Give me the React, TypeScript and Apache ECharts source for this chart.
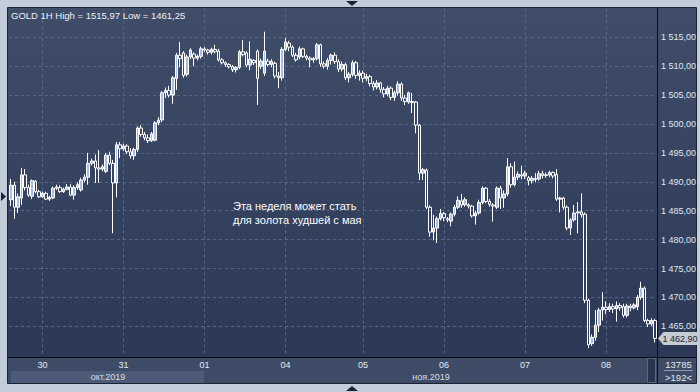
import React, { useEffect, useRef } from "react";
import * as echarts from "echarts";

// Hourly OHLC of GOLD (1H)
const open = [
  1486.9, 1489.4, 1485.6, 1487.2, 1491.2, 1489.0, 1487.5, 1490.1, 1488.3, 1487.4,
  1488.0, 1487.0, 1487.2, 1488.9, 1489.0, 1488.3, 1488.7, 1489.1, 1487.7, 1489.0,
  1488.6, 1490.3, 1490.8, 1493.2, 1493.6, 1492.4, 1492.2, 1491.8, 1494.6, 1493.2,
  1489.8, 1496.4, 1495.7, 1496.2, 1495.2, 1494.5, 1495.6, 1499.3, 1498.2, 1497.6,
  1497.1, 1497.2, 1500.2, 1500.7, 1505.4, 1505.8, 1505.0, 1507.9, 1511.9, 1512.3,
  1508.6, 1511.6, 1512.1, 1511.4, 1511.7, 1513.0, 1512.8, 1512.4, 1512.9, 1512.6,
  1511.1, 1510.6, 1510.3, 1509.9, 1509.4, 1509.8, 1512.5, 1512.3, 1510.2, 1511.0,
  1512.6, 1510.0, 1508.8, 1510.9, 1510.3, 1510.5, 1508.3, 1508.0, 1512.9, 1514.0,
  1513.3, 1511.9, 1511.6, 1513.0, 1511.7, 1511.4, 1511.1, 1511.3, 1513.7, 1510.4,
  1510.0, 1511.0, 1511.9, 1510.8, 1509.5, 1510.3, 1508.0, 1508.6, 1510.6, 1508.4,
  1508.8, 1507.9, 1508.2, 1507.0, 1506.4, 1507.1, 1506.0, 1505.2, 1506.2, 1504.6,
  1505.4, 1506.9, 1504.5, 1503.8, 1503.9, 1503.8, 1499.8, 1491.5, 1492.0, 1485.6,
  1481.3, 1482.0, 1483.6, 1484.5, 1483.6, 1483.2, 1484.4, 1485.6, 1486.7, 1486.0,
  1486.0, 1485.8, 1484.1, 1484.6, 1486.4, 1488.9, 1486.6, 1486.0, 1485.6, 1488.9,
  1487.2, 1487.9, 1492.6, 1489.5, 1490.8, 1491.2, 1491.0, 1490.7, 1490.2, 1490.6,
  1490.5, 1491.4, 1491.1, 1491.2, 1491.6, 1491.3, 1487.0, 1487.2, 1485.6, 1482.0,
  1483.4, 1484.6, 1484.8, 1484.4, 1469.5, 1462.0, 1463.1, 1465.2, 1467.8, 1468.3,
  1467.9, 1468.4, 1468.0, 1468.6, 1468.4, 1466.9, 1468.5, 1468.2, 1468.4, 1470.0,
  1471.6, 1466.0, 1465.4, 1466.0,
];
const close = [
  1489.4, 1485.6, 1487.4, 1491.2, 1489.0, 1487.7, 1490.2, 1488.3, 1487.4, 1488.0,
  1487.0, 1487.3, 1488.9, 1489.1, 1488.3, 1488.7, 1489.1, 1487.7, 1489.0, 1489.5,
  1490.3, 1490.8, 1493.2, 1493.6, 1492.4, 1492.2, 1492.6, 1494.6, 1493.2, 1489.8,
  1496.4, 1495.7, 1496.2, 1495.2, 1494.5, 1495.6, 1499.3, 1498.2, 1497.6, 1497.1,
  1498.3, 1500.2, 1500.7, 1505.4, 1505.8, 1505.0, 1508.0, 1511.9, 1511.3, 1508.4,
  1511.6, 1512.8, 1511.4, 1511.7, 1513.0, 1512.8, 1512.4, 1512.9, 1512.5, 1511.1,
  1510.6, 1510.3, 1509.9, 1509.4, 1509.8, 1512.5, 1512.0, 1510.2, 1511.2, 1510.6,
  1507.9, 1510.9, 1512.6, 1510.3, 1510.8, 1508.3, 1508.0, 1512.9, 1514.2, 1513.3,
  1511.9, 1511.1, 1513.0, 1511.7, 1511.4, 1511.1, 1511.3, 1513.7, 1510.4, 1510.0,
  1511.0, 1511.9, 1510.8, 1509.5, 1510.3, 1508.0, 1508.6, 1510.6, 1508.4, 1508.8,
  1507.9, 1508.2, 1507.0, 1506.4, 1507.1, 1506.0, 1505.2, 1506.2, 1504.6, 1505.4,
  1506.9, 1504.5, 1503.9, 1505.4, 1503.7, 1499.8, 1491.5, 1492.1, 1485.6, 1481.3,
  1482.0, 1483.6, 1484.5, 1483.8, 1483.4, 1484.4, 1485.6, 1486.8, 1486.0, 1486.9,
  1485.8, 1484.1, 1484.6, 1486.4, 1488.9, 1486.6, 1486.1, 1485.8, 1488.9, 1487.2,
  1487.9, 1492.6, 1489.5, 1490.8, 1491.3, 1491.0, 1491.5, 1490.2, 1490.6, 1490.4,
  1491.4, 1491.1, 1491.2, 1491.6, 1491.0, 1487.0, 1487.2, 1485.6, 1482.0, 1483.4,
  1484.6, 1484.8, 1484.3, 1469.5, 1461.8, 1463.1, 1465.2, 1467.8, 1468.3, 1467.9,
  1468.4, 1468.0, 1468.6, 1468.2, 1466.9, 1468.5, 1468.2, 1468.7, 1470.0, 1471.6,
  1466.0, 1465.4, 1466.0, 1462.9,
];
const low = [
  1485.8, 1483.6, 1484.6, 1486.0, 1488.5, 1487.4, 1487.0, 1488.0, 1487.2, 1487.2,
  1486.9, 1486.7, 1487.0, 1488.6, 1488.1, 1488.1, 1488.5, 1487.5, 1486.9, 1488.6,
  1488.3, 1489.9, 1489.5, 1492.8, 1489.8, 1489.8, 1491.8, 1491.5, 1492.9, 1481.1,
  1487.3, 1494.1, 1495.3, 1494.8, 1494.0, 1493.8, 1495.2, 1497.8, 1497.2, 1496.7,
  1496.9, 1497.0, 1499.8, 1500.3, 1504.5, 1504.6, 1503.5, 1505.9, 1509.8, 1508.0,
  1508.2, 1511.2, 1510.0, 1511.0, 1511.3, 1512.5, 1512.0, 1512.0, 1512.2, 1510.8,
  1510.3, 1509.9, 1509.6, 1509.0, 1508.9, 1509.5, 1511.7, 1509.8, 1509.3, 1510.2,
  1503.3, 1509.5, 1508.3, 1510.0, 1509.8, 1507.9, 1506.2, 1507.5, 1512.6, 1512.6,
  1511.6, 1510.8, 1511.2, 1511.4, 1511.0, 1509.8, 1510.6, 1511.0, 1509.9, 1509.6,
  1509.4, 1510.3, 1510.4, 1509.0, 1509.1, 1507.6, 1507.2, 1508.2, 1507.8, 1507.5,
  1507.2, 1507.4, 1506.5, 1505.8, 1506.0, 1505.4, 1504.6, 1504.8, 1504.1, 1504.0,
  1504.9, 1504.0, 1503.3, 1503.5, 1501.9, 1498.4, 1490.3, 1490.3, 1485.3, 1480.5,
  1479.9, 1479.4, 1483.3, 1483.2, 1483.0, 1482.3, 1484.0, 1485.3, 1485.5, 1485.7,
  1485.4, 1483.8, 1482.6, 1484.3, 1486.1, 1486.3, 1485.7, 1483.1, 1485.3, 1485.3,
  1485.5, 1487.5, 1489.0, 1489.2, 1490.3, 1490.4, 1490.5, 1489.4, 1489.7, 1489.9,
  1490.2, 1490.6, 1490.7, 1490.8, 1490.6, 1486.7, 1484.7, 1485.2, 1481.6, 1480.8,
  1483.1, 1481.1, 1483.8, 1469.0, 1461.25, 1461.6, 1462.5, 1464.0, 1466.0, 1467.1,
  1467.5, 1467.3, 1465.8, 1467.7, 1466.5, 1466.5, 1467.6, 1467.9, 1467.8, 1469.6,
  1465.7, 1464.9, 1465.0, 1462.2,
];
const high = [
  1490.5, 1490.0, 1488.0, 1492.4, 1492.2, 1489.5, 1490.4, 1490.3, 1488.6, 1488.3,
  1488.3, 1487.6, 1489.2, 1489.5, 1489.4, 1489.0, 1489.6, 1489.6, 1489.4, 1489.9,
  1490.7, 1491.3, 1495.0, 1494.0, 1494.7, 1495.5, 1493.0, 1495.0, 1495.2, 1493.8,
  1496.9, 1496.9, 1496.6, 1496.5, 1495.8, 1495.9, 1499.6, 1499.8, 1498.6, 1498.2,
  1498.6, 1500.5, 1501.2, 1505.7, 1506.3, 1506.6, 1508.3, 1512.3, 1514.2, 1512.6,
  1512.0, 1513.1, 1512.4, 1512.0, 1513.4, 1513.3, 1513.0, 1513.2, 1513.7, 1513.0,
  1511.4, 1510.8, 1510.5, 1510.2, 1510.0, 1512.8, 1514.5, 1512.6, 1514.3, 1511.2,
  1512.9, 1511.3, 1515.97, 1511.3, 1511.2, 1510.8, 1509.0, 1513.3, 1514.9, 1514.4,
  1513.6, 1512.3, 1513.4, 1513.2, 1512.0, 1511.7, 1511.6, 1514.0, 1513.9, 1510.8,
  1511.4, 1512.2, 1512.4, 1511.2, 1510.8, 1510.6, 1509.0, 1511.0, 1510.9, 1509.3,
  1509.2, 1508.7, 1508.5, 1507.4, 1507.6, 1507.3, 1506.4, 1506.6, 1506.5, 1505.8,
  1507.4, 1507.2, 1505.0, 1505.6, 1505.4, 1504.0, 1500.0, 1492.4, 1492.3, 1485.9,
  1484.3, 1484.0, 1485.3, 1484.8, 1483.9, 1484.7, 1486.0, 1487.5, 1487.9, 1487.3,
  1486.3, 1486.0, 1485.0, 1486.9, 1489.2, 1489.1, 1487.0, 1486.3, 1489.2, 1489.3,
  1488.5, 1494.1, 1493.2, 1493.5, 1491.8, 1492.8, 1491.9, 1491.0, 1491.0, 1491.5,
  1491.9, 1491.9, 1491.6, 1491.9, 1491.8, 1492.2, 1487.4, 1487.4, 1485.9, 1483.7,
  1486.0, 1486.5, 1488.0, 1484.7, 1469.8, 1463.6, 1467.8, 1468.2, 1470.9, 1469.3,
  1469.0, 1468.9, 1469.3, 1469.0, 1468.9, 1468.9, 1468.9, 1469.0, 1470.4, 1472.7,
  1471.9, 1466.3, 1466.4, 1466.3,
];

// first hourly bar of each trading day, and its label
const dayStart = [9, 32, 55, 78, 100, 123, 146, 169];
const dayLabels = ["30", "31", "01", "04", "05", "06", "07", "08"];
const monthLabels = ["окт.2019", "ноя.2019"];
const annotation = ["Эта неделя может стать", "для золота худшей с мая"];
const barCountText = "13785";
const visibleText = ">192<";

const FONT = '"Liberation Sans", Arial, sans-serif';

function fmtPrice(v: number): string {
  const s = v.toFixed(2).replace(".", ",");
  const [intPart, dec] = s.split(",");
  const th = intPart.length > 3 ? intPart.slice(0, intPart.length - 3) + " " + intPart.slice(-3) : intPart;
  return th + "," + dec;
}

export default function App() {
  const ref = useRef<HTMLDivElement>(null);

  useEffect(() => {
    document.body.style.margin = "0";
    if (!ref.current) return;
    const chart = echarts.init(ref.current, undefined, { renderer: "svg" });

    const categories = open.map((_, i) => String(i));
    const data = open.map((o, i) => [o, close[i], low[i], high[i]]);
    const hi = Math.max(...high);
    const lo = Math.min(...low);
    const last = close[close.length - 1];
    const title = `GOLD 1H High = ${hi.toFixed(2).replace(".", ",")} Low = ${lo.toFixed(2).replace(".", ",")}`;

    const isDay = (i: number) => dayStart.indexOf(i) >= 0;
    const gridColor = "#56678a";

    chart.setOption({
      animation: false,
      backgroundColor: "transparent",
      grid: { left: 9, top: 8.4, width: 648, height: 346.8, containLabel: false },
      xAxis: {
        type: "category",
        data: categories,
        boundaryGap: true,
        axisLine: { show: false },
        axisTick: { show: false },
        axisLabel: {
          interval: (i: number) => isDay(i),
          formatter: (_v: string, i: number) => {
            const k = dayStart.indexOf(i);
            return k >= 0 ? dayLabels[k] : "";
          },
          color: "#e6ebf3",
          fontSize: 9,
          fontFamily: FONT,
          margin: 5,
        },
        splitLine: {
          show: true,
          interval: (i: number) => isDay(i),
          alignWithLabel: true,
          lineStyle: { color: gridColor, type: [3, 3], width: 1 },
        },
      },
      yAxis: {
        type: "value",
        position: "right",
        min: 1460,
        max: 1520,
        interval: 5,
        axisLine: { show: false },
        axisTick: { show: false },
        axisLabel: {
          color: "#dfe8f5",
          fontSize: 9,
          fontFamily: FONT,
          margin: 4,
          showMinLabel: false,
          showMaxLabel: false,
          formatter: (v: number) => fmtPrice(v),
        },
        splitLine: {
          show: true,
          showMinLine: false,
          showMaxLine: false,
          lineStyle: { color: gridColor, type: [3, 3], width: 1 },
        },
      },
      series: [
        {
          type: "candlestick",
          data,
          barWidth: 3,
          z: 3,
          emphasis: { disabled: true },
          itemStyle: {
            color: "#a9bee2",
            color0: "rgba(0,0,0,0)",
            borderColor: "#ffffff",
            borderColor0: "#ffffff",
            borderColorDoji: "#ffffff",
            borderWidth: 1,
          },
        },
      ],
      graphic: [
        { type: "rect", z: -30, silent: true, shape: { x: 0, y: 0, width: 700, height: 392 }, style: { fill: "#c3ccd9" } },
        { type: "rect", z: -29, silent: true, shape: { x: 7.5, y: 7.5, width: 689, height: 376 }, style: { fill: "#3d4b66", stroke: "#1c2333", lineWidth: 1 } },
        {
          type: "rect", z: -28, silent: true,
          shape: { x: 8, y: 8, width: 688, height: 349 },
          style: {
            fill: new echarts.graphic.LinearGradient(0, 0, 0, 1, [
              { offset: 0, color: "#3f4d69" },
              { offset: 1, color: "#2c3956" },
            ]),
          },
        },
        { type: "rect", z: -27, silent: true, shape: { x: 11, y: 371, width: 193, height: 12 }, style: { fill: "#4c5b77" } },
        { type: "rect", z: -27, silent: true, shape: { x: 647.5, y: 358.5, width: 8, height: 24 }, style: { fill: "#29344e", stroke: "#5a6781", lineWidth: 1 } },
        { type: "line", z: 60, silent: true, shape: { x1: 8, y1: 357.5, x2: 696, y2: 357.5 }, style: { stroke: "#0a0d14", lineWidth: 1 } },
        { type: "line", z: 60, silent: true, shape: { x1: 657.5, y1: 8, x2: 657.5, y2: 383 }, style: { stroke: "#0a0d14", lineWidth: 1 } },
        { type: "polygon", z: 60, silent: true, shape: { points: [[346, 1], [358, 1], [352, 6]] }, style: { fill: "#1a2132" } },
        { type: "polygon", z: 60, silent: true, shape: { points: [[346, 391], [358, 391], [352, 386]] }, style: { fill: "#1a2132" } },
        { type: "polygon", z: 60, silent: true, shape: { points: [[1, 192], [1, 201], [6, 196.5]] }, style: { fill: "#1a2132" } },
        {
          type: "text", z: 60, silent: true,
          style: { text: title, x: 11, y: 15.5, verticalAlign: "middle", fill: "#eef1f6", font: `9.5px ${FONT}` },
        },
        {
          type: "text", z: 60, silent: true,
          style: { text: annotation.join("\n"), x: 233, y: 199, fill: "#ffffff", font: `11px ${FONT}`, lineHeight: 14 },
        },
        {
          type: "text", z: 60, silent: true,
          style: { text: monthLabels[0], x: 108, y: 377, align: "center", verticalAlign: "middle", fill: "#d6dde8", font: `9px ${FONT}` },
        },
        {
          type: "text", z: 60, silent: true,
          style: { text: monthLabels[1], x: 431, y: 377, align: "center", verticalAlign: "middle", fill: "#d6dde8", font: `9px ${FONT}` },
        },
        {
          type: "text", z: 60, silent: true,
          style: { text: barCountText, x: 678.5, y: 364.5, align: "center", verticalAlign: "middle", fill: "#e2e8f1", font: `9.5px ${FONT}` },
        },
        { type: "line", z: 60, silent: true, shape: { x1: 664, y1: 370.5, x2: 693, y2: 370.5 }, style: { stroke: "#8e9ab0", lineWidth: 1 } },
        {
          type: "text", z: 60, silent: true,
          style: { text: visibleText, x: 678.5, y: 377, align: "center", verticalAlign: "middle", fill: "#e2e8f1", font: `9.5px ${FONT}` },
        },
        {
          type: "polygon", z: 61, silent: true,
          shape: { points: [[658, 338.5], [663.5, 332], [697, 332], [697, 345], [663.5, 345]] },
          style: { fill: "#c7cbd2" },
        },
        {
          type: "text", z: 62, silent: true,
          style: { text: fmtPrice(last), x: 662.5, y: 338.8, verticalAlign: "middle", fill: "#1b2131", font: `9px ${FONT}` },
        },
      ],
    });

    return () => chart.dispose();
  }, []);

  return <div ref={ref} style={{ width: 700, height: 392 }} />;
}
